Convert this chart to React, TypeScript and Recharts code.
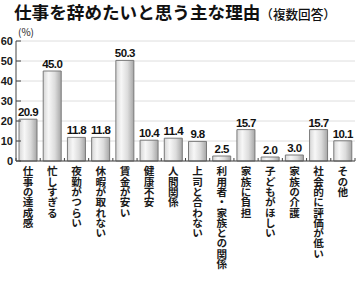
import { Bar, BarChart, CartesianGrid, LabelList, XAxis, YAxis } from 'recharts'

const CATEGORIES = [
  '仕事の達成感',
  '忙しすぎる',
  '夜勤がつらい',
  '休暇が取れない',
  '賃金が安い',
  '健康不安',
  '人間関係',
  '上司と合わない',
  '利用者・家族との関係',
  '家族に負担',
  '子どもがほしい',
  '家族の介護',
  '社会的に評価が低い',
  'その他',
]
const VALUES = [20.9, 45.0, 11.8, 11.8, 50.3, 10.4, 11.4, 9.8, 2.5, 15.7, 2.0, 3.0, 15.7, 10.1]
const Y_TICKS = [0, 10, 20, 30, 40, 50, 60]

const W = 357
const H = 299
const MARGIN = { top: 41, right: 2, left: 0, bottom: 108 }
const Y_AXIS_W = 16
const BAND = (W - MARGIN.left - MARGIN.right - Y_AXIS_W) / CATEGORIES.length

const JP = '"Noto Sans CJK JP", "Noto Sans", sans-serif'
const NUM = '"Liberation Sans", Arial, sans-serif'

const data = CATEGORIES.map((name, i) => ({ name, value: VALUES[i] }))

// vertical category label + small boundary ticks on the axis
function CategoryTick(props: any) {
  const { x, y, payload, index } = props
  return (
    <g>
      <line x1={x - BAND / 2} x2={x - BAND / 2} y1={y} y2={y - 3} stroke="#444" />
      {index === CATEGORIES.length - 1 && (
        <line x1={x + BAND / 2} x2={x + BAND / 2} y1={y} y2={y - 3} stroke="#444" />
      )}
      <text
        x={x}
        y={y + 5}
        textAnchor="start"
        fontSize={10.6}
        fontWeight={700}
        fontFamily={JP}
        fill="#1a1a1a"
        letterSpacing={-0.3}
        style={{ writingMode: 'vertical-rl' }}
      >
        {payload.value}
      </text>
    </g>
  )
}

export default function App() {
  return (
    <div style={{ position: 'absolute', left: 0, top: 0, width: W, height: H, background: '#fff' }}>
      <div
        style={{
          position: 'absolute',
          left: 14,
          top: -1,
          whiteSpace: 'nowrap',
          fontFamily: JP,
          color: '#111',
        }}
      >
        <span style={{ fontSize: 17.6, fontWeight: 700 }}>仕事を辞めたいと思う主な理由</span>
        <span style={{ fontSize: 12.6, fontWeight: 500 }}>（複数回答）</span>
      </div>
      <div
        style={{
          position: 'absolute',
          left: 18,
          top: 24,
          fontSize: 10,
          fontFamily: JP,
          color: '#222',
        }}
      >
        (%)
      </div>
      <BarChart width={W} height={H} data={data} margin={MARGIN} barSize={18}>
        <defs>
          <linearGradient id="barGrad" x1="0" y1="0" x2="1" y2="0">
            <stop offset="0%" stopColor="#d6d6d6" />
            <stop offset="30%" stopColor="#f7f7f7" />
            <stop offset="65%" stopColor="#dcdcdc" />
            <stop offset="100%" stopColor="#a6a6a6" />
          </linearGradient>
        </defs>
        <CartesianGrid vertical={false} stroke="#dedede" />
        <XAxis
          dataKey="name"
          interval={0}
          stroke="#444"
          tickLine={false}
          tickSize={0}
          tickMargin={0}
          tick={<CategoryTick />}
        />
        <YAxis
          width={Y_AXIS_W}
          domain={[0, 60]}
          ticks={Y_TICKS}
          interval={0}
          stroke="#444"
          tickSize={-5}
          tickMargin={8}
          tick={{ fill: '#1a1a1a', fontSize: 11, fontFamily: NUM, fontWeight: 700 }}
        />
        <Bar
          dataKey="value"
          fill="url(#barGrad)"
          stroke="#7a7a7a"
          strokeWidth={1}
          isAnimationActive={false}
        >
          <LabelList
            dataKey="value"
            position="top"
            offset={3}
            formatter={(v: any) => Number(v).toFixed(1)}
            style={{ fill: '#111', fontSize: 11.5, fontFamily: NUM, fontWeight: 700, letterSpacing: -0.6 }}
          />
        </Bar>
      </BarChart>
    </div>
  )
}
